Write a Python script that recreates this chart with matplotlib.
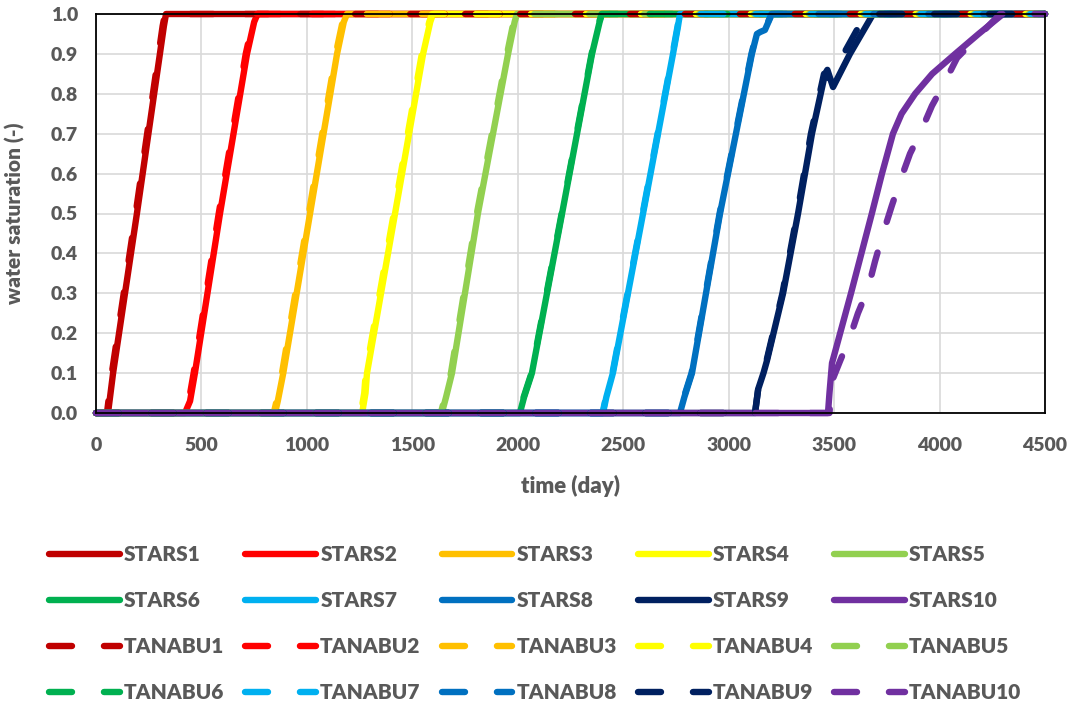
import matplotlib
matplotlib.use("Agg")
import matplotlib.pyplot as plt

plt.rcParams['font.family'] = ['Lato', 'DejaVu Sans']
plt.rcParams['font.weight'] = 'heavy'

GREY = '#595959'

colors = ['#C00000', '#FF0000', '#FFC000', '#FFFF00', '#92D050',
          '#00B050', '#00B0F0', '#0070C0', '#002060', '#7030A0']

# STARS results (time in days, water saturation)
stars_t = [
    [0, 57, 81, 194, 303, 322, 332, 4500],
    [0, 422, 446, 469, 588, 716, 750, 766, 4500],
    [0, 849, 862, 888, 1015, 1143, 1175, 1190, 4500],
    [0, 1262, 1278, 1285, 1418, 1551, 1585, 1598, 4500],
    [0, 1640, 1660, 1688, 1811, 1954, 1985, 1996, 4500],
    [0, 2010, 2030, 2067, 2210, 2352, 2388, 2399, 4500],
    [0, 2404, 2420, 2451, 2594, 2736, 2760, 2769, 4500],
    [0, 2769, 2790, 2826, 2959, 3110, 3134, 3150, 3172, 3205, 4500],
    [0, 3125, 3140, 3165, 3181, 3258, 3329, 3395, 3457, 3468, 3495, 3575, 3685, 4500],
    [0, 3471, 3478, 3490, 3580, 3679, 3727, 3779, 3820, 3884, 3965, 4074, 4185, 4301, 4500],
]
stars_sw = [
    [0, 0, 0.1, 0.5, 0.9, 0.97, 1, 1],
    [0, 0, 0.03, 0.1, 0.5, 0.9, 0.98, 1, 1],
    [0, 0, 0.03, 0.1, 0.5, 0.9, 0.98, 1, 1],
    [0, 0, 0.05, 0.1, 0.5, 0.9, 0.98, 1, 1],
    [0, 0, 0.04, 0.1, 0.5, 0.9, 0.98, 1, 1],
    [0, 0, 0.04, 0.1, 0.5, 0.9, 0.98, 1, 1],
    [0, 0, 0.04, 0.1, 0.5, 0.9, 0.97, 1, 1],
    [0, 0, 0.04, 0.1, 0.5, 0.9, 0.95, 0.955, 0.96, 1, 1],
    [0, 0, 0.06, 0.1, 0.13, 0.3, 0.5, 0.7, 0.85, 0.86, 0.817, 0.9, 1, 1],
    [0, 0, 0.05, 0.125, 0.3, 0.5, 0.6, 0.7, 0.75, 0.8, 0.85, 0.9, 0.95, 1, 1],
]

# TANABU results
tanabu_t = [
    [0, 52, 75, 188, 297, 316, 327, 4500],
    [0, 416, 440, 463, 582, 710, 744, 761, 4500],
    [0, 843, 856, 882, 1009, 1137, 1169, 1185, 4500],
    [0, 1256, 1272, 1279, 1412, 1545, 1580, 1594, 4500],
    [0, 1635, 1655, 1683, 1806, 1949, 1980, 1992, 4500],
    [0, 2008, 2028, 2065, 2208, 2350, 2386, 2397, 4500],
    [0, 2402, 2418, 2449, 2592, 2734, 2758, 2767, 4500],
    [0, 2767, 2788, 2824, 2957, 3108, 3132, 3148, 3170, 3203, 4500],
    [0, 3125, 3140, 3163, 3179, 3255, 3325, 3390, 3452, 3470, 3490, 3545, 3650, 4500],
    [0, 3478, 3490, 3528, 3575, 3613, 3660, 3694, 3732, 3774, 3812, 3860, 3907,
     3964, 4016, 4083, 4158, 4287, 4500],
]
tanabu_sw = [
    [0, 0, 0.1, 0.5, 0.9, 0.97, 1, 1],
    [0, 0, 0.03, 0.1, 0.5, 0.9, 0.98, 1, 1],
    [0, 0, 0.03, 0.1, 0.5, 0.9, 0.98, 1, 1],
    [0, 0, 0.05, 0.1, 0.5, 0.9, 0.98, 1, 1],
    [0, 0, 0.04, 0.1, 0.5, 0.9, 0.98, 1, 1],
    [0, 0, 0.04, 0.1, 0.5, 0.9, 0.98, 1, 1],
    [0, 0, 0.04, 0.1, 0.5, 0.9, 0.97, 1, 1],
    [0, 0, 0.04, 0.1, 0.5, 0.9, 0.95, 0.955, 0.96, 1, 1],
    [0, 0, 0.06, 0.1, 0.13, 0.3, 0.5, 0.7, 0.85, 0.84, 0.85, 0.9, 1, 1],
    [0, 0, 0.08, 0.13, 0.19, 0.25, 0.31, 0.38, 0.45, 0.52, 0.58, 0.65, 0.70,
     0.77, 0.82, 0.89, 0.93, 1, 1],
]

x_ticks = [0, 500, 1000, 1500, 2000, 2500, 3000, 3500, 4000, 4500]
y_ticks = [0.0, 0.1, 0.2, 0.3, 0.4, 0.5, 0.6, 0.7, 0.8, 0.9, 1.0]

fig = plt.figure(figsize=(10.69, 7.02), dpi=100)
ax = fig.add_axes([96 / 1069, 1 - 413 / 702, 949 / 1069, 399 / 702])

LW = 4.6
stars_lines = []
for i in range(10):
    ln, = ax.plot(stars_t[i], stars_sw[i], color=colors[i], lw=LW,
                  solid_capstyle='round', solid_joinstyle='round',
                  clip_on=False, label='STARS%d' % (i + 1))
    stars_lines.append(ln)
tanabu_lines = []
for i in range(10):
    ln, = ax.plot(tanabu_t[i], tanabu_sw[i], color=colors[i], lw=LW,
                  dashes=(3.6, 5.0), dash_capstyle='round',
                  dash_joinstyle='round', clip_on=False,
                  label='TANABU%d' % (i + 1))
    tanabu_lines.append(ln)

ax.set_xlim(0, 4500)
ax.set_ylim(0, 1.0)
ax.set_xticks(x_ticks)
ax.set_yticks(y_ticks)
ax.set_yticklabels(['%.1f' % v for v in y_ticks])
ax.tick_params(length=0, labelsize=14, labelcolor=GREY)
ax.tick_params(axis='x', pad=17)
ax.tick_params(axis='y', pad=13)
ax.grid(True, color='#D9D9D9', lw=1.2)
ax.set_axisbelow(True)
for s in ax.spines.values():
    s.set_color('black')
    s.set_linewidth(1.3)

ax.set_xlabel('time (day)', fontsize=16, color=GREY, fontweight='heavy')
ax.set_ylabel('water saturation (-)', fontsize=15, color=GREY, fontweight='heavy')
ax.xaxis.set_label_coords(0.5, -0.155)
ax.yaxis.set_label_coords(-0.075, 0.5)

# legend in row-major order like the original
handles, labels = [], []
for c in range(5):
    for ln in (stars_lines[c], stars_lines[c + 5], tanabu_lines[c], tanabu_lines[c + 5]):
        handles.append(ln)
        labels.append(ln.get_label())
fig.legend(handles, labels, ncol=5, loc='upper left',
           bbox_to_anchor=(49 / 1069, 1 - 545 / 702), frameon=False,
           fontsize=15, labelcolor=GREY, handlelength=3.4,
           handletextpad=0.2, columnspacing=1.0, labelspacing=1.3,
           borderpad=0, borderaxespad=0)

fig.savefig('out.png', dpi=100)
